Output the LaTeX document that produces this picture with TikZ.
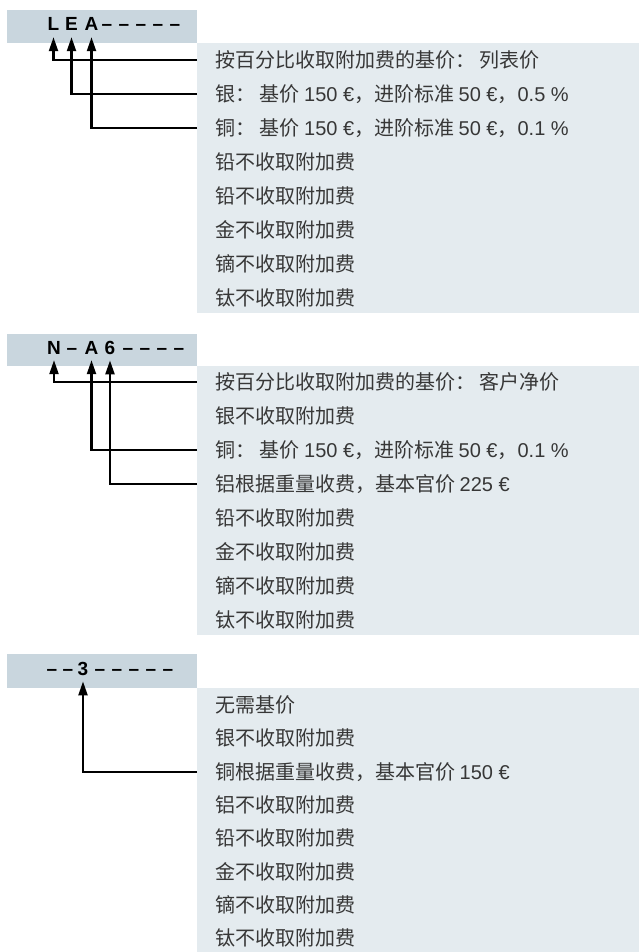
\documentclass[tikz,border=0pt]{standalone}
\usepackage{fontspec}
\setmainfont{Noto Sans CJK SC}
\newfontfamily\lat{Liberation Sans}
\usetikzlibrary{arrows.meta}
\definecolor{hdrbg}{RGB}{201,214,222}
\definecolor{boxbg}{RGB}{228,235,239}
\definecolor{txt}{RGB}{55,55,55}
\begin{document}
\begin{tikzpicture}[x=1pt,y=-1pt,
  code/.style={font=\lat\bfseries\fontsize{19}{22}\selectfont, anchor=base, inner xsep=0pt, inner ysep=6pt, text=black},
  row/.style={anchor=west, inner xsep=18pt, inner ysep=0pt, text height=17pt, text depth=2pt, font=\fontsize{20}{24}\selectfont, text=txt},
  arr/.style={line width=2.2pt, -{Triangle[length=14pt,width=9pt]}}
]
\useasboundingbox (0,0) rectangle (639,952);
% backgrounds
\fill[hdrbg] (7,10) rectangle (197,43);
\fill[boxbg] (197,43) rectangle (639,313);
\fill[hdrbg] (7,334) rectangle (197,366);
\fill[boxbg] (197,366) rectangle (639,635);
\fill[hdrbg] (7,654) rectangle (197,688);
\fill[boxbg] (197,688) rectangle (639,952);

% header 1
\node[code] (h1L) at (53.5,31) {L};
\node[code] (h1E) at (71.5,31) {E};
\node[code] (h1A) at (91.5,31) {A};
\foreach \x [count=\i] in {107,124,141,158,175} \node[code] (h1d\i) at (\x,31) {–};

% header 2
\node[code] (h2N) at (54,354) {N};
\node[code] (h2m) at (72,354) {–};
\node[code] (h2A) at (91.5,354) {A};
\node[code] (h2S) at (110,354) {6};
\foreach \x [count=\i] in {128,145,162,179} \node[code] (h2d\i) at (\x,354) {–};

% header 3
\node[code] (h3a) at (52,675) {–};
\node[code] (h3b) at (68,675) {–};
\node[code] (h3T) at (83,675) {3};
\foreach \x [count=\i] in {100,117,134,151,168} \node[code] (h3d\i) at (\x,675) {–};

% box 1
\node[row] (a1) at (197,60) {按百分比收取附加费的基价： 列表价};
\node[row] (a2) at (197,94) {银： 基价 {\lat 150 €}，进阶标准 {\lat 50 €}，{\lat 0.5 \%}};
\node[row] (a3) at (197,128) {铜： 基价 {\lat 150 €}，进阶标准 {\lat 50 €}，{\lat 0.1 \%}};
\node[row] (a4) at (197,162) {铅不收取附加费};
\node[row] (a5) at (197,196) {铅不收取附加费};
\node[row] (a6) at (197,230) {金不收取附加费};
\node[row] (a7) at (197,264) {镝不收取附加费};
\node[row] (a8) at (197,298) {钛不收取附加费};

% box 2
\node[row] (b1) at (197,382) {按百分比收取附加费的基价： 客户净价};
\node[row] (b2) at (197,416) {银不收取附加费};
\node[row] (b3) at (197,450) {铜： 基价 {\lat 150 €}，进阶标准 {\lat 50 €}，{\lat 0.1 \%}};
\node[row] (b4) at (197,484) {铝根据重量收费，基本官价 {\lat 225 €}};
\node[row] (b5) at (197,518) {铅不收取附加费};
\node[row] (b6) at (197,552) {金不收取附加费};
\node[row] (b7) at (197,586) {镝不收取附加费};
\node[row] (b8) at (197,620) {钛不收取附加费};

% box 3
\node[row] (c1) at (197,705) {无需基价};
\node[row] (c2) at (197,738) {银不收取附加费};
\node[row] (c3) at (197,772) {铜根据重量收费，基本官价 {\lat 150 €}};
\node[row] (c4) at (197,805) {铝不收取附加费};
\node[row] (c5) at (197,838) {铅不收取附加费};
\node[row] (c6) at (197,872) {金不收取附加费};
\node[row] (c7) at (197,905) {镝不收取附加费};
\node[row] (c8) at (197,938) {钛不收取附加费};

% connectors
\draw[arr] (a1.west) -| (h1L.south);
\draw[arr] (a2.west) -| (h1E.south);
\draw[arr] (a3.west) -| (h1A.south);
\draw[arr] (b1.west) -| (h2N.south);
\draw[arr] (b3.west) -| (h2A.south);
\draw[arr] (b4.west) -| (h2S.south);
\draw[arr] (c3.west) -| (h3T.south);
\end{tikzpicture}
\end{document}
